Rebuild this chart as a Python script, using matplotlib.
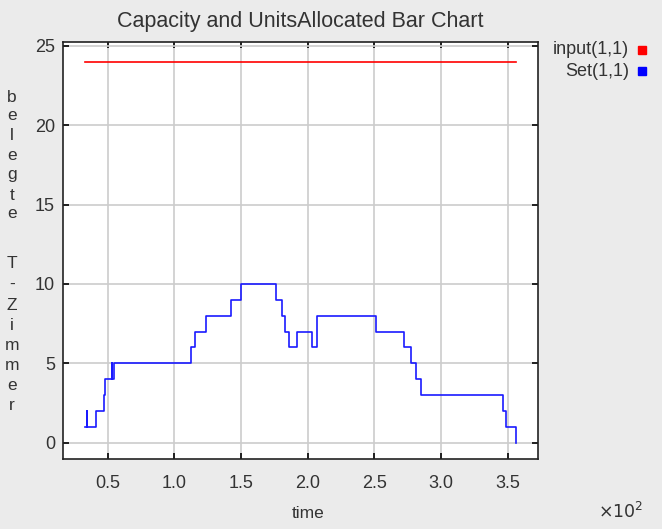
import matplotlib
matplotlib.use("Agg")
import matplotlib.pyplot as plt

plt.rcParams['font.family'] = ['Liberation Sans', 'DejaVu Sans']

# Data (time in units; axis shows x10^2)
set_t = [33.0, 34.7, 34.7, 41.0, 47.5, 48.2, 53.0, 53.0, 55.0, 112.2, 115.5, 123.5, 142.2, 150.0,
         176.2, 180.5, 183.0, 186.2, 191.7, 203.5, 207.2, 251.0, 272.5, 277.5, 281.2, 285.0,
         346.7, 348.7, 356.7]
set_v = [1, 2, 1, 2, 3, 4, 5, 4, 5, 6, 7, 8, 9, 10,
         9, 8, 7, 6, 7, 6, 8, 7, 6, 5, 4, 3,
         2, 1, 0]
input_t = [33.0, 356.7]
input_v = [24, 24]

title = "Capacity and UnitsAllocated Bar Chart"
xlabel = "time"
ylabel_letters = list("belegte") + list("T-Zimmer")
xticks = [50, 100, 150, 200, 250, 300, 350]
xticklabels = ["0.5", "1.0", "1.5", "2.0", "2.5", "3.0", "3.5"]
yticks = [0, 5, 10, 15, 20, 25]
legend_labels = ["input(1,1)", "Set(1,1)"]

bg = '#ebebeb'
txt = '#333333'

fig = plt.figure(figsize=(6.62, 5.29), dpi=100, facecolor=bg)
ax = fig.add_axes([0.0956, 0.1318, 0.812 - 0.0956, 0.9212 - 0.1318])
ax.set_facecolor('white')

ax.plot(input_t, input_v, color='#ff0000', lw=1.2, drawstyle='steps-post')
ax.plot(set_t, set_v, color='#1a1aff', lw=1.2, drawstyle='steps-post')

ax.set_xlim(16.7, 372.5)
ax.set_ylim(-1.05, 25.27)
ax.set_xticks(xticks)
ax.set_xticklabels(xticklabels)
ax.set_yticks(yticks)
ax.grid(True, color='#cccccc', lw=1.2)
ax.set_axisbelow(True)
ax.tick_params(direction='in', top=True, right=True, length=4, width=1.2,
               labelsize=13, labelcolor=txt)
ax.tick_params(axis='x', pad=11)
ax.tick_params(axis='y', pad=6)
for s in ax.spines.values():
    s.set_linewidth(1.2)
    s.set_color('#222222')

fig.text(300 / 662, 1 - 22 / 529, title, ha='center', va='center', fontsize=15.5, color=txt)
fig.text(308 / 662, 1 - 513 / 529, xlabel, ha='center', va='center', fontsize=12.5, color=txt)
fig.text(621 / 662, 1 - 511 / 529, r"$\times10^{2}$", ha='center', va='center', fontsize=12.5, color=txt)

# vertical stacked y label
lys = [97, 116, 136, 156, 175, 195, 214, 263, 284, 305, 326, 346, 366, 386, 405]
for ch, yy in zip(ylabel_letters, lys):
    fig.text(12 / 662, 1 - yy / 529, ch, ha='center', va='center', fontsize=12.5, color=txt)

# legend
colors = ['#ff0000', '#0000ff']
for i, (lab, c) in enumerate(zip(legend_labels, colors)):
    yy = 1 - (50 + 21 * i) / 529
    fig.text(629 / 662, yy, lab, ha='right', va='center', fontsize=13, color=txt)
    fig.patches.append(plt.Rectangle((638 / 662, yy - 4 / 529), 8 / 662, 8 / 529,
                                     transform=fig.transFigure, color=c, figure=fig))

fig.savefig('out.png', dpi=100, facecolor=bg)
